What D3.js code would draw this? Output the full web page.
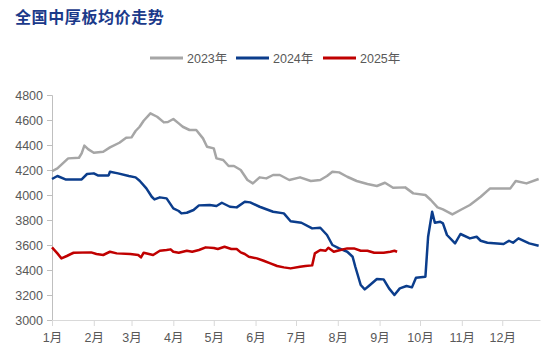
<!DOCTYPE html>
<html lang="zh">
<head>
    <meta charset="UTF-8">
    <title>全国中厚板均价走势</title>
    <script src="https://d3js.org/d3.v7.min.js"></script>
    <style>
        body {
            margin: 0;
            background-color: #ffffff;
        }
        svg {
            display: block;
            font-family: "Liberation Sans", Arial, "Noto Sans CJK SC", sans-serif;
        }
    </style>
</head>
<body>
    <svg id="chart" width="556" height="363"></svg>

    <script>
        // month ticks
        const monthLabels = ["1月", "2月", "3月", "4月", "5月", "6月", "7月", "8月", "9月", "10月", "11月", "12月"];
        const yTicks = [3000, 3200, 3400, 3600, 3800, 4000, 4200, 4400, 4600, 4800];

        // 2023年
        const dates2023 = ["01-01", "01-05", "01-09", "01-13", "01-21", "01-23", "01-25", "01-28", "02-01", "02-08",
            "02-13", "02-20", "02-25", "03-01", "03-04", "03-07", "03-10", "03-15", "03-20", "03-25",
            "03-28", "04-01", "04-05", "04-08", "04-13", "04-18", "04-23", "04-26", "05-01", "05-03",
            "05-08", "05-12", "05-16", "05-21", "05-26", "05-30", "06-04", "06-09", "06-14", "06-19",
            "06-26", "07-04", "07-12", "07-19", "07-24", "07-28", "08-02", "08-08", "08-15", "08-23",
            "08-30", "09-05", "09-11", "09-20", "09-26", "10-05", "10-09", "10-14", "10-18", "10-25",
            "10-31", "11-07", "11-15", "11-22", "11-30", "12-07", "12-11", "12-19", "12-28"];
        const values2023 = [4190, 4213, 4253, 4293, 4298, 4333, 4395, 4365, 4338, 4346,
            4381, 4418, 4458, 4461, 4512, 4546, 4594, 4653, 4626, 4581,
            4584, 4608, 4573, 4546, 4520, 4520, 4453, 4386, 4373, 4293,
            4280, 4232, 4232, 4200, 4120, 4093, 4141, 4133, 4160, 4160,
            4120, 4141, 4112, 4120, 4152, 4186, 4181, 4146, 4112, 4088,
            4072, 4098, 4058, 4061, 4013, 4000, 3960, 3901, 3885, 3845,
            3880, 3920, 3986, 4053, 4053, 4053, 4112, 4093, 4128];

        // 2024年
        const dates2024 = ["01-01", "01-05", "01-11", "01-23", "01-27", "02-01", "02-04", "02-12", "02-13", "02-19",
            "02-27", "03-04", "03-07", "03-12", "03-16", "03-18", "03-22", "03-27", "04-01", "04-05",
            "04-07", "04-11", "04-16", "04-20", "04-28", "05-03", "05-07", "05-13", "05-18", "05-24",
            "05-28", "06-04", "06-14", "06-22", "06-27", "07-05", "07-13", "07-19", "07-24", "07-28",
            "08-02", "08-08", "08-12", "08-14", "08-18", "08-21", "08-24", "08-30", "09-04", "09-08",
            "09-12", "09-16", "09-21", "09-25", "09-28", "10-05", "10-07", "10-10", "10-12", "10-16",
            "10-18", "10-21", "10-27", "10-31", "11-07", "11-12", "11-15", "11-20", "12-02", "12-06",
            "12-09", "12-13", "12-21", "12-28"];
        const values2024 = [4128, 4152, 4125, 4125, 4168, 4173, 4157, 4157, 4186, 4173,
            4152, 4141, 4114, 4053, 3986, 3965, 3981, 3973, 3893, 3872,
            3853, 3858, 3880, 3917, 3920, 3912, 3938, 3906, 3901, 3946,
            3941, 3906, 3866, 3853, 3790, 3778, 3733, 3738, 3680, 3600,
            3573, 3546, 3506, 3426, 3280, 3245, 3272, 3328, 3325, 3253,
            3200, 3253, 3272, 3261, 3338, 3346, 3666, 3866, 3778, 3786,
            3773, 3680, 3613, 3688, 3653, 3666, 3634, 3618, 3608, 3634,
            3618, 3653, 3613, 3594];

        // 2025年
        const dates2025 = ["01-01", "01-05", "01-08", "01-12", "01-17", "01-30", "02-03", "02-08", "02-13", "02-18",
            "02-28", "03-06", "03-08", "03-10", "03-17", "03-22", "03-27", "03-30", "04-01", "04-05",
            "04-11", "04-15", "04-20", "04-25", "05-01", "05-04", "05-09", "05-14", "05-18", "05-21",
            "05-24", "05-27", "06-02", "06-07", "06-12", "06-17", "06-22", "06-27", "07-04", "07-08",
            "07-13", "07-15", "07-19", "07-23", "07-25", "07-29", "08-03", "08-08", "08-13", "08-18",
            "08-23", "08-28", "09-04", "09-09", "09-12", "09-14"];
        const values2025 = [3581, 3533, 3493, 3512, 3538, 3541, 3528, 3520, 3546, 3533,
            3528, 3520, 3501, 3538, 3520, 3554, 3560, 3565, 3546, 3538,
            3554, 3546, 3560, 3581, 3576, 3568, 3586, 3568, 3568, 3541,
            3528, 3506, 3493, 3474, 3453, 3432, 3421, 3413, 3426, 3432,
            3437, 3533, 3560, 3554, 3578, 3546, 3560, 3573, 3573, 3554,
            3554, 3538, 3538, 3546, 3554, 3546];

        const parseDay = d3.timeParse("%m-%d");

        const series = [
            { name: "2023年", color: "#a6a6a6", dates: dates2023, values: values2023 },
            { name: "2024年", color: "#0b3d8c", dates: dates2024, values: values2024 },
            { name: "2025年", color: "#c00000", dates: dates2025, values: values2025 }
        ];

        const svg = d3.select("#chart");
        const margin = { left: 52, right: 16, top: 95, bottom: 43 };
        const width = 556, height = 363;

        const x = d3.scaleTime()
            .domain([parseDay("01-01"), parseDay("12-29")])
            .range([margin.left, width - margin.right]);

        const y = d3.scaleLinear()
            .domain([3000, 4800])
            .range([height - margin.bottom, margin.top]);

        // title
        svg.append("text")
            .attr("x", 15)
            .attr("y", 23)
            .attr("fill", "#1b3a8a")
            .attr("font-size", 16)
            .attr("font-weight", "bold")
            .attr("font-family", "'Noto Sans CJK SC', sans-serif")
            .attr("letter-spacing", 0.6)
            .text("全国中厚板均价走势");

        // legend
        const legendX = [150, 236, 323];
        const legend = svg.append("g");
        series.forEach((s, i) => {
            legend.append("line")
                .attr("x1", legendX[i]).attr("x2", legendX[i] + 33)
                .attr("y1", 58).attr("y2", 58)
                .attr("stroke", s.color)
                .attr("stroke-width", 3);
            legend.append("text")
                .attr("x", legendX[i] + 37)
                .attr("y", 62.5)
                .attr("fill", "#595959")
                .attr("font-size", 12.5)
                .text(s.name);
        });

        // y axis
        const yAxis = svg.append("g")
            .attr("transform", `translate(${margin.left},0)`)
            .call(d3.axisLeft(y).tickValues(yTicks).tickSize(5).tickPadding(4).tickFormat(d3.format("d")));
        yAxis.select(".domain").attr("stroke", "#bfbfbf");
        yAxis.selectAll(".tick line").attr("stroke", "#bfbfbf");
        yAxis.selectAll(".tick text")
            .attr("fill", "#595959")
            .attr("font-size", 12.5)
            .attr("font-family", "'Liberation Sans', Arial, sans-serif");

        // x axis
        const monthStarts = d3.range(12).map(m => new Date(1900, m, 1));
        const xAxis = svg.append("g")
            .attr("transform", `translate(0,${height - margin.bottom})`)
            .call(d3.axisBottom(x).tickValues(monthStarts).tickSize(6).tickPadding(7)
                .tickFormat((d, i) => monthLabels[i]).tickSizeOuter(0));
        xAxis.select(".domain").attr("stroke", "#d9d9d9");
        xAxis.selectAll(".tick line").attr("stroke", "#d9d9d9");
        xAxis.selectAll(".tick text")
            .attr("fill", "#595959")
            .attr("font-size", 12.5)
            .attr("font-family", "'Liberation Sans', Arial, 'Noto Sans CJK SC', sans-serif");

        // lines
        const line = d3.line()
            .x(d => x(d[0]))
            .y(d => y(d[1]));

        series.forEach(s => {
            const pts = s.dates.map((d, i) => [parseDay(d), s.values[i]]);
            svg.append("path")
                .datum(pts)
                .attr("fill", "none")
                .attr("stroke", s.color)
                .attr("stroke-width", 2.5)
                .attr("stroke-linejoin", "round")
                .attr("d", line);
        });
    </script>
</body>
</html>
